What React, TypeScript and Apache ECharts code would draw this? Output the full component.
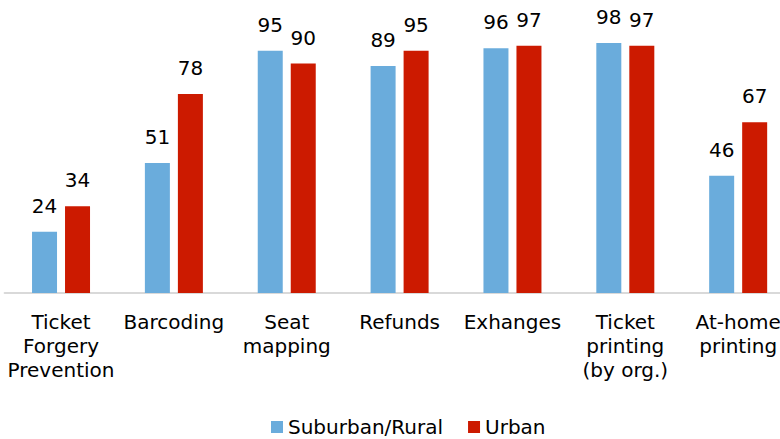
import React, { useEffect, useRef } from "react";
import * as echarts from "echarts";

const categories = [
  "Ticket\nForgery\nPrevention",
  "Barcoding",
  "Seat\nmapping",
  "Refunds",
  "Exhanges",
  "Ticket\nprinting\n(by org.)",
  "At-home\nprinting",
];
const suburbanRural = [24, 51, 95, 89, 96, 98, 46];
const urban = [34, 78, 90, 95, 97, 97, 67];

const FONT = "'DejaVu Sans', sans-serif";

export default function App() {
  const ref = useRef<HTMLDivElement>(null);
  useEffect(() => {
    if (!ref.current) return;
    const chart = echarts.init(ref.current, null, { renderer: "svg" });
    const label = {
      show: true,
      position: "top" as const,
      distance: 16,
      fontSize: 20,
      color: "#000",
      fontFamily: FONT,
    };
    chart.setOption({
      animation: false,
      backgroundColor: "#fff",
      textStyle: { fontFamily: FONT },
      legend: {
        left: 266,
        top: 412,
        itemWidth: 12,
        itemHeight: 12,
        itemGap: 25,
        icon: "rect",
        textStyle: { fontSize: 20, color: "#000", fontFamily: FONT },
        data: ["Suburban/Rural", "Urban"],
      },
      grid: { left: 4.6, top: 38, width: 790, height: 255 },
      xAxis: {
        type: "category",
        data: categories,
        axisTick: { show: false },
        axisLine: { lineStyle: { color: "#d9d9d9", width: 2 } },
        axisLabel: {
          interval: 0,
          fontSize: 20,
          lineHeight: 24,
          color: "#000",
          margin: 17,
          fontFamily: FONT,
        },
      },
      yAxis: {
        type: "value",
        min: 0,
        max: 100,
        show: false,
      },
      series: [
        {
          name: "Suburban/Rural",
          type: "bar",
          data: suburbanRural,
          barWidth: 25,
          barGap: "32%",
          itemStyle: { color: "#6aacdc" },
          label,
        },
        {
          name: "Urban",
          type: "bar",
          data: urban,
          barWidth: 25,
          itemStyle: { color: "#cc1a00" },
          label,
        },
      ],
    });
    return () => chart.dispose();
  }, []);
  return (
    <div
      style={{
        position: "fixed",
        left: 0,
        top: 0,
        width: 780,
        height: 439,
        overflow: "hidden",
        background: "#fff",
      }}
    >
      <div ref={ref} style={{ width: 800, height: 439 }} />
    </div>
  );
}
